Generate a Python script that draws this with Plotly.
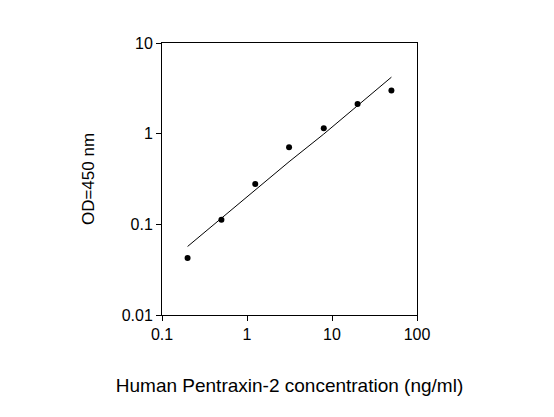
import plotly.graph_objects as go

conc = [0.2, 0.5, 1.25, 3.125, 8, 20, 50]
od = [0.0425, 0.112, 0.279, 0.71, 1.15, 2.12, 3.0]

fit_x = [0.2, 0.25, 0.5, 1.25, 3.125, 8, 20, 50]
fit_y = [0.057, 0.068, 0.117, 0.24, 0.49, 0.99, 2.03, 4.2]

fig = go.Figure()
fig.add_trace(go.Scatter(x=fit_x, y=fit_y, mode="lines", line=dict(color="black", width=1)))
fig.add_trace(go.Scatter(x=conc, y=od, mode="markers", marker=dict(color="black", size=6)))

axis_common = dict(type="log", showgrid=False, zeroline=False, showline=True, mirror=True,
                   linecolor="black", linewidth=1, ticks="outside", ticklen=5,
                   tickcolor="black", tickfont=dict(size=16, color="black"))
fig.update_xaxes(range=[-1, 2], tickvals=[0.1, 1, 10, 100], ticktext=["0.1", "1", "10", "100"],
                 title=dict(text="Human Pentraxin-2 concentration (ng/ml)", font=dict(size=19, color="black"), standoff=36),
                 **axis_common)
fig.update_yaxes(range=[-2, 1], tickvals=[0.01, 0.1, 1, 10], ticktext=["0.01", "0.1", "1", "10"],
                 title=dict(text="OD=450 nm", font=dict(size=17, color="black"), standoff=22),
                 **axis_common)
fig.update_layout(width=554, height=417, showlegend=False, plot_bgcolor="white", paper_bgcolor="white",
                  font=dict(family="Liberation Sans, Arial"),
                  margin=dict(l=154, r=145, t=35, b=110))
fig.write_html("out.html")
